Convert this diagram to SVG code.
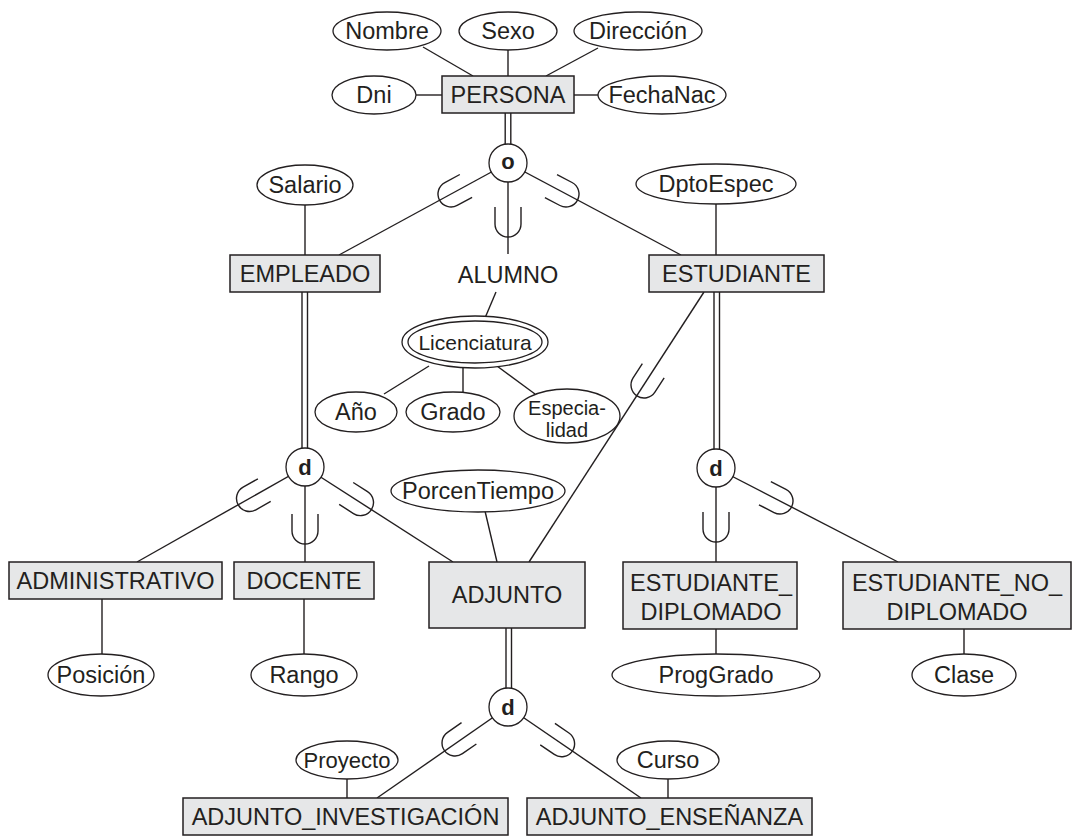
<svg xmlns="http://www.w3.org/2000/svg" width="1080" height="836" viewBox="0 0 1080 836">
  <defs>
    <style>
      text{font-family:"Liberation Sans",Arial,Helvetica,sans-serif;font-size:23.5px;fill:#231f20;text-anchor:middle}
      .ent rect{fill:#e6e7e8;stroke:#231f20;stroke-width:1.5}
      .att ellipse{fill:#fff;stroke:#231f20;stroke-width:1.3}
      .spec circle{fill:#fff;stroke:#231f20;stroke-width:1.3}
      .spec text{font-family:"Liberation Sans",Arial,sans-serif;font-weight:700;font-size:22px}
      #connectors line{stroke:#231f20;stroke-width:1.4}
      .sub{fill:none;stroke:#231f20;stroke-width:1.4}
      .s21{font-size:21px}
      .s20{font-size:20px}
      .s22{font-size:22px}
    </style>
    <!-- subset symbol: open side toward the superclass, closed side along +y toward the subclass -->
    <path id="u" class="sub" d="M-13,-17 V0 A13,13 0 0 0 13,0 V-17"/>
  </defs>

  <g id="connectors">
    <!-- PERSONA attributes -->
    <line x1="423" y1="47" x2="473" y2="76"/>
    <line x1="508" y1="49" x2="508" y2="76"/>
    <line x1="598" y1="48" x2="546" y2="76"/>
    <line x1="416" y1="95" x2="442" y2="95"/>
    <line x1="574" y1="95" x2="600" y2="95"/>
    <!-- total participation PERSONA -> o -->
    <line x1="505.2" y1="113" x2="505.2" y2="150"/>
    <line x1="510.8" y1="113" x2="510.8" y2="150"/>
    <!-- overlapping specialization -->
    <line x1="508" y1="163" x2="339" y2="255"/>
    <line x1="508" y1="163" x2="508" y2="254"/>
    <line x1="508" y1="163" x2="681" y2="255"/>
    <line x1="305" y1="205" x2="305" y2="255"/>
    <line x1="716" y1="204" x2="716" y2="255"/>
    <!-- ALUMNO composite attribute -->
    <line x1="496" y1="292" x2="485" y2="318"/>
    <line x1="429" y1="366" x2="384" y2="394"/>
    <line x1="463" y1="367" x2="463" y2="392"/>
    <line x1="497" y1="366" x2="535" y2="394"/>
    <!-- EMPLEADO disjoint -->
    <line x1="302" y1="292" x2="302" y2="460"/>
    <line x1="307.5" y1="292" x2="307.5" y2="460"/>
    <line x1="305" y1="467" x2="137" y2="562"/>
    <line x1="305" y1="467" x2="305" y2="562"/>
    <line x1="305" y1="467" x2="453" y2="562"/>
    <line x1="485" y1="511" x2="497" y2="562"/>
    <!-- ADJUNTO also a subclass of ESTUDIANTE -->
    <line x1="704" y1="292" x2="529" y2="562"/>
    <!-- ESTUDIANTE disjoint -->
    <line x1="714" y1="292" x2="714" y2="460"/>
    <line x1="719.5" y1="292" x2="719.5" y2="460"/>
    <line x1="716" y1="468" x2="716" y2="562"/>
    <line x1="716" y1="468" x2="898" y2="562"/>
    <!-- subclass attributes -->
    <line x1="102" y1="599" x2="102" y2="654"/>
    <line x1="304" y1="599" x2="304" y2="654"/>
    <line x1="716" y1="629" x2="716" y2="654"/>
    <line x1="964" y1="629" x2="964" y2="654"/>
    <!-- ADJUNTO disjoint -->
    <line x1="506" y1="628" x2="506" y2="700"/>
    <line x1="511.5" y1="628" x2="511.5" y2="700"/>
    <line x1="508" y1="707" x2="377" y2="798"/>
    <line x1="508" y1="707" x2="641" y2="798"/>
    <line x1="347" y1="779" x2="347" y2="798"/>
    <line x1="668" y1="779" x2="668" y2="798"/>
    <!-- subset marks -->
    <use href="#u" transform="translate(451,194) rotate(61.7)"/>
    <use href="#u" transform="translate(508,224)"/>
    <use href="#u" transform="translate(566,194) rotate(-62.2)"/>
    <use href="#u" transform="translate(249.5,498.5) rotate(60.5)"/>
    <use href="#u" transform="translate(305,531)"/>
    <use href="#u" transform="translate(360.5,502.6) rotate(-57.3)"/>
    <use href="#u" transform="translate(644,385) rotate(33)"/>
    <use href="#u" transform="translate(716,529)"/>
    <use href="#u" transform="translate(780,501) rotate(-62.7)"/>
    <use href="#u" transform="translate(455,743) rotate(55.2)"/>
    <use href="#u" transform="translate(561.6,743.7) rotate(-55.6)"/>
  </g>

  <!-- attributes -->
  <g id="att-nombre" class="att"><ellipse cx="387" cy="31" rx="54" ry="19"/><text x="387" y="39.4">Nombre</text></g>
  <g id="att-sexo" class="att"><ellipse cx="508" cy="31" rx="49" ry="19"/><text x="508" y="39.4">Sexo</text></g>
  <g id="att-direccion" class="att"><ellipse cx="638" cy="31" rx="64" ry="19"/><text x="638" y="39.4">Dirección</text></g>
  <g id="att-dni" class="att"><ellipse cx="374" cy="95" rx="42" ry="19"/><text x="374" y="103.4">Dni</text></g>
  <g id="att-fechanac" class="att"><ellipse cx="662" cy="95" rx="64" ry="19"/><text x="662" y="103.4">FechaNac</text></g>
  <g id="att-salario" class="att"><ellipse cx="305" cy="185" rx="48" ry="20"/><text x="305" y="193.4">Salario</text></g>
  <g id="att-dptoespec" class="att"><ellipse cx="716" cy="184" rx="80" ry="20"/><text x="716" y="192.4">DptoEspec</text></g>
  <g id="att-licenciatura" class="att">
    <ellipse cx="475" cy="342" rx="73" ry="26"/>
    <ellipse cx="475" cy="342" rx="67" ry="21"/>
    <text class="s21" x="475" y="349.5">Licenciatura</text>
  </g>
  <g id="att-anio" class="att"><ellipse cx="356" cy="412" rx="41" ry="20"/><text x="356" y="420.4">Año</text></g>
  <g id="att-grado" class="att"><ellipse cx="453" cy="412" rx="47" ry="20"/><text x="453" y="420.4">Grado</text></g>
  <g id="att-especialidad" class="att">
    <ellipse cx="567" cy="416" rx="53" ry="27"/>
    <text class="s20" x="567" y="415">Especia-</text>
    <text class="s20" x="567" y="437">lidad</text>
  </g>
  <g id="att-porcentiempo" class="att"><ellipse cx="478" cy="491" rx="87" ry="21"/><text x="478" y="499.4">PorcenTiempo</text></g>
  <g id="att-posicion" class="att"><ellipse cx="101" cy="675" rx="53" ry="21"/><text x="101" y="683.4">Posición</text></g>
  <g id="att-rango" class="att"><ellipse cx="304" cy="675" rx="53" ry="21"/><text x="304" y="683.4">Rango</text></g>
  <g id="att-proggrado" class="att"><ellipse cx="716" cy="675" rx="104" ry="21"/><text x="716" y="683.4">ProgGrado</text></g>
  <g id="att-clase" class="att"><ellipse cx="964" cy="675" rx="52" ry="21"/><text x="964" y="683.4">Clase</text></g>
  <g id="att-proyecto" class="att"><ellipse cx="347" cy="760" rx="51" ry="19"/><text class="s22" x="347" y="768">Proyecto</text></g>
  <g id="att-curso" class="att"><ellipse cx="668" cy="760" rx="51" ry="19"/><text x="668" y="768.4">Curso</text></g>

  <!-- specialization circles -->
  <g id="spec-persona" class="spec"><circle cx="508" cy="163" r="19"/><text x="508" y="169">o</text></g>
  <g id="spec-empleado" class="spec"><circle cx="305" cy="467" r="19"/><text x="305" y="475">d</text></g>
  <g id="spec-estudiante" class="spec"><circle cx="716" cy="468" r="19"/><text x="716" y="476">d</text></g>
  <g id="spec-adjunto" class="spec"><circle cx="508" cy="707" r="19"/><text x="508" y="715">d</text></g>

  <!-- entities -->
  <g id="ent-persona" class="ent"><rect x="442" y="76" width="132" height="37"/><text x="508" y="103">PERSONA</text></g>
  <g id="ent-empleado" class="ent"><rect x="230" y="255" width="150" height="37"/><text x="305" y="282">EMPLEADO</text></g>
  <g id="ent-alumno"><text x="508" y="283.4">ALUMNO</text></g>
  <g id="ent-estudiante" class="ent"><rect x="649" y="255" width="175" height="37"/><text x="736.5" y="282">ESTUDIANTE</text></g>
  <g id="ent-administrativo" class="ent"><rect x="9" y="562" width="213" height="37"/><text x="115.5" y="589">ADMINISTRATIVO</text></g>
  <g id="ent-docente" class="ent"><rect x="234" y="562" width="140" height="37"/><text x="304" y="589">DOCENTE</text></g>
  <g id="ent-adjunto" class="ent"><rect x="429" y="562" width="156" height="66"/><text x="507" y="603.4">ADJUNTO</text></g>
  <g id="ent-estudiante-diplomado" class="ent">
    <rect x="623" y="562" width="174" height="67"/>
    <text x="711" y="591.4">ESTUDIANTE_</text>
    <text x="711" y="620">DIPLOMADO</text>
  </g>
  <g id="ent-estudiante-no-diplomado" class="ent">
    <rect x="843" y="562" width="228" height="67"/>
    <text x="957" y="591.4">ESTUDIANTE_NO_</text>
    <text x="957" y="620">DIPLOMADO</text>
  </g>
  <g id="ent-adjunto-investigacion" class="ent"><rect x="183" y="798" width="325" height="37"/><text x="345.5" y="825">ADJUNTO_INVESTIGACIÓN</text></g>
  <g id="ent-adjunto-ensenanza" class="ent"><rect x="527" y="798" width="285" height="37"/><text x="669.5" y="825">ADJUNTO_ENSEÑANZA</text></g>
</svg>
